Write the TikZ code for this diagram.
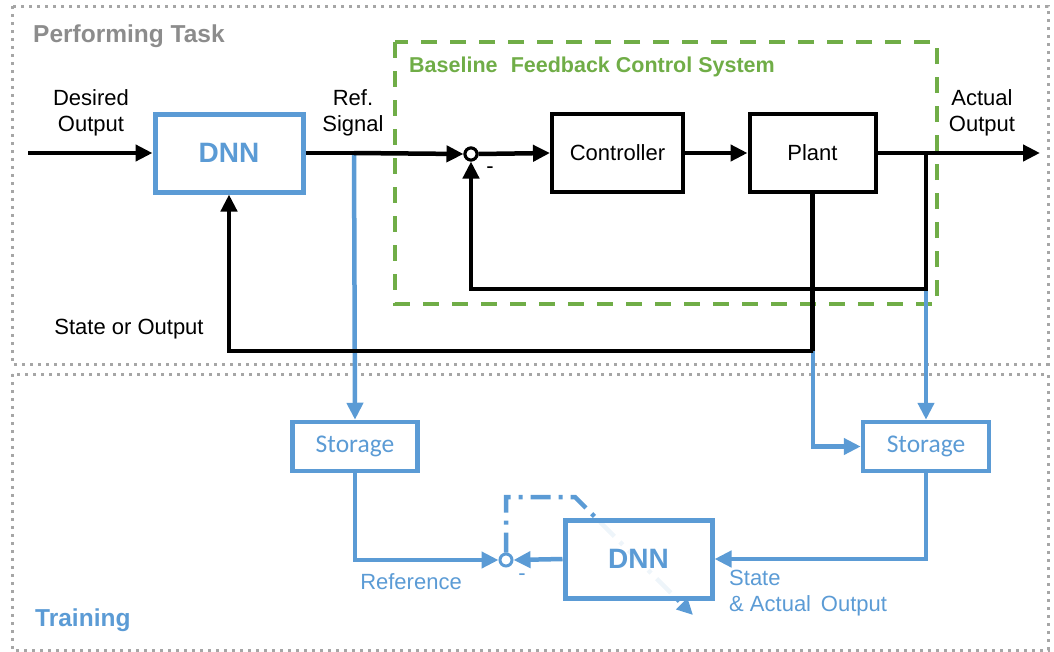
\documentclass[tikz,border=0pt]{standalone}
\usepackage{fontspec}
\setmainfont{Liberation Sans}
\newfontfamily\calib{Carlito}
\usetikzlibrary{arrows.meta}
\definecolor{nnblue}{HTML}{5B9BD5}
\definecolor{fbgreen}{HTML}{70AD47}
\definecolor{titlegray}{HTML}{8C8C8C}
\definecolor{framegray}{HTML}{A6A6A6}
\tikzset{
  lbl/.style={font=\fontsize{22}{26}\selectfont, align=center, inner sep=0pt},
  blkbox/.style={draw=black, line width=4pt, fill=white, font=\fontsize{22}{24}\selectfont, inner sep=0pt},
  nnbox/.style={draw=nnblue, line width=5pt, fill=white, text=nnblue, font=\fontsize{28}{32}\selectfont\bfseries, inner sep=0pt},
  storebox/.style={draw=nnblue, line width=4.5pt, fill=white, text=nnblue, font=\calib\fontsize{25.5}{28}\selectfont, inner sep=0pt, minimum height=49pt},
  sumjct/.style={circle, draw, line width=3pt, fill=white, minimum size=12pt, inner sep=0pt},
  blk/.style={draw=black, line width=4.5pt},
  blu/.style={draw=nnblue, line width=4.5pt},
  tip/.style={-{Triangle[length=17pt,width=16pt]}},
  frame/.style={draw=framegray, line width=3pt, dash pattern=on 3pt off 5pt},
}
\begin{document}
\begin{tikzpicture}[x=1pt,y=-1pt]
\useasboundingbox (0,0) rectangle (1054,651);

% section frames
\draw[frame] (12,6) rectangle (1048,364);
\draw[frame] (12,374) rectangle (1048,650);
\node[anchor=west, text=titlegray, font=\fontsize{24.5}{28}\selectfont\bfseries, inner sep=0pt] (ttask) at (33,36) {Performing Task};
\node[anchor=west, text=nnblue, font=\fontsize{24.5}{28}\selectfont\bfseries, inner sep=0pt] (ttrain) at (35,620) {Training};

% baseline feedback loop region
\draw[draw=fbgreen, line width=3.5pt, dash pattern=on 16pt off 13pt] (395,42) rectangle (937,304);
\node[anchor=west, text=fbgreen, font=\fontsize{21.5}{24}\selectfont\bfseries, inner sep=0pt] (tbase) at (409,67) {Baseline\,\, Feedback Control System};

% blocks
\node[nnbox, minimum width=148pt, minimum height=78pt] (dnn1) at (229,153) {DNN};
\node[sumjct] (sum1) at (471,154) {};
\node[blkbox, minimum width=131pt, minimum height=78pt] (ctrl) at (617.5,153) {Controller};
\node[blkbox, minimum width=126pt, minimum height=78pt] (plant) at (812.5,153) {Plant};
\node[storebox, minimum width=125pt] (st1) at (355,446.5) {Storage};
\node[storebox, minimum width=126pt] (st2) at (926,446.5) {Storage};
\node[sumjct, draw=nnblue] (sum2) at (506,560) {};

% junction points
\coordinate (in) at (28,153);
\coordinate (out) at (1040,153);
\coordinate (reftap) at (354,153);
\coordinate (fbtap) at (926,153);
\coordinate (fbcorner) at (926,289);
\coordinate (stcorner) at (813,351);
\coordinate (adjA) at (506,497);
\coordinate (adjB) at (575,497);
\coordinate (adjC) at (693,615);

% data collection paths (blue)
\draw[blu, tip] (reftap) -- (st1.north);
\draw[blu, tip] (fbcorner) -- (st2.north);
\draw[blu, tip] (stcorner) |- (st2.west);
\draw[blu, tip] (st1.south) |- (sum2.west);

% adjustable weights of the trained network
\draw[draw=nnblue, line width=4.5pt, dash pattern=on 20pt off 8pt on 4pt off 8pt,
      -{Triangle[length=16pt,width=15pt]}] (sum2.north) -- (adjA) -- (adjB) -- (adjC);
\node[nnbox, fill opacity=0.9, text opacity=1, minimum width=147pt, minimum height=78pt] (dnn2) at (638.5,559) {DNN};
\draw[blu, tip] (dnn2.west) -- (sum2.east);
\draw[blu, tip] (st2.south) |- (dnn2.east);

% signal paths (black)
\draw[blk, tip] (in) -- (dnn1.west);
\draw[blk] (dnn1.east) -- (reftap);
\draw[blk, tip] (reftap) -- (sum1.west);
\draw[blk, tip] (sum1.east) -- (ctrl.west);
\draw[blk, tip] (ctrl.east) -- (plant.west);
\draw[blk, tip] (plant.east) -- (out);
\draw[blk, tip] (fbtap) -- (fbcorner) -| (sum1.south);
\draw[blk, tip] (plant.south) |- (stcorner) -| (dnn1.south);
\node[sumjct] at (sum1) {};

% labels
\node[lbl] (ldes) at (91,113) {Desired\\Output};
\node[lbl] (lref) at (353,113) {Ref.\\Signal};
\node[lbl] (lact) at (982,113) {Actual\\Output};
\node[lbl] (lstate) at (129,329) {State or Output};
\node[lbl] (lminus1) at (490,170) {-};
\node[lbl, text=nnblue] (lreference) at (411,582) {Reference};
\node[lbl, text=nnblue] (lminus2) at (522,577) {-};
\node[lbl, text=nnblue, align=left, anchor=north west] (lsao) at (729,570) {State\\\& Actual\, Output};
\end{tikzpicture}
\end{document}
